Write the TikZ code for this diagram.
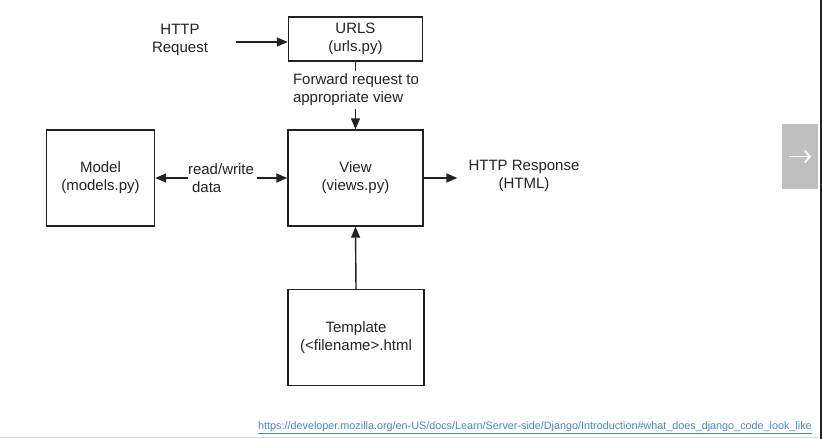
\documentclass[tikz,border=0pt]{standalone}
\usepackage{xcolor}
\usepackage{fontspec}
\setmainfont{Liberation Sans}
\usepackage{tikz}
\usetikzlibrary{arrows.meta,positioning,calc}

\definecolor{inkgray}{HTML}{222222}
\definecolor{linkblue}{HTML}{4A86C8}

\begin{document}
\begin{tikzpicture}[x=1pt,y=-1pt,
    box/.style={draw=inkgray, line width=1.4pt, inner sep=0pt, align=center,
      font=\fontsize{15}{18}\selectfont, text=inkgray},
    label/.style={inner sep=0pt, font=\fontsize{15}{18}\selectfont, text=inkgray},
    arr/.style={draw=inkgray, line width=1.4pt, -{Triangle[length=11pt,width=9pt]}}]
  \useasboundingbox (0,0) rectangle (822,439);

  % request comes in
  \node[label, align=center] (request) at (180, 40) {HTTP\\Request};
  \node[box, minimum width=134pt, minimum height=44pt] (urls) at (355.5, 39) {URLS\\(urls.py)};
  \draw[arr] ([xshift=28pt]request.east |- 0,42) -- (urls.west |- 0,42);

  \node[label, align=left] (forward) at (356, 90) {Forward request to\\appropriate view};
  \node[box, minimum width=135pt, minimum height=96pt] (view) at (355.5, 178) {View\\(views.py)};
  \draw[draw=inkgray, line width=1.4pt] (urls.south) -- ([yshift=3pt]urls.south |- forward.north);
  \draw[arr] ([yshift=-3pt]view.north |- forward.south) -- (view.north);

  % model side
  \node[box, minimum width=108pt, minimum height=96pt] (model) at (100.5, 178) {Model\\(models.py)};
  \node[label, align=left] (rw) at (221, 178) {read/write\\\hspace{4pt}data};
  \draw[arr] (rw.west |- model.east) -- (model.east);
  \draw[arr] ([xshift=3pt]rw.east |- view.west) -- (view.west);

  % response and template
  \node[label, align=center] (response) at (524, 176) {HTTP Response\\(HTML)};
  \draw[arr] (view.east) -- ([xshift=-11pt]response.west |- view.east);
  \node[box, minimum width=136pt, minimum height=96pt] (template) at (356, 337.5) {Template\\(<filename>.html};
  \draw[arr] (template.north) -- (view.south);

  % page chrome
  \fill[black!25] (782,124) rectangle (818,189);
  \draw[white, line width=1.8pt, -{Straight Barb[length=5pt,width=12pt]}] (789,156.5) -- (811,156.5);
  \draw[black!15, line width=1.5pt] (0,437.5) -- (819,437.5);
  \draw[inkgray, line width=2.5pt] (820.75,0) -- (820.75,439);
  \node[inner sep=0pt, text=linkblue, font=\fontsize{10.8}{13}\selectfont] (source) at (535, 428)
    {\underline{https://developer.mozilla.org/en-US/docs/Learn/Server-side/Django/Introduction\#what\_does\_django\_code\_look\_like}};
\end{tikzpicture}
\end{document}
